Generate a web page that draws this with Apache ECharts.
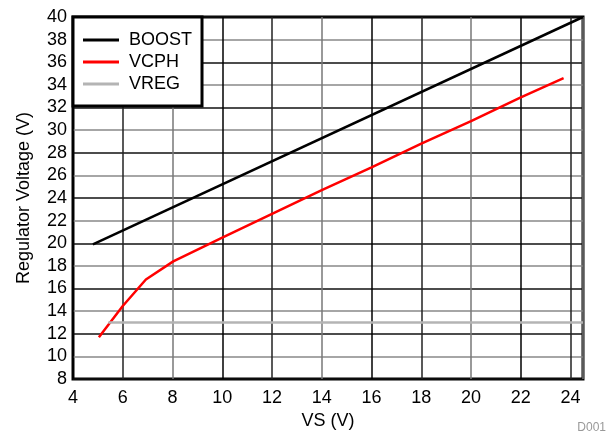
<!DOCTYPE html>
<html>
<head>
<meta charset="utf-8">
<script src="https://cdn.jsdelivr.net/npm/echarts@6/dist/echarts.min.js"></script>
<style>
  html,body{margin:0;padding:0;background:#fff;}
  #chart{width:610px;height:436px;}
</style>
</head>
<body>
<div id="chart"></div>
<script>
// data
var boostX = [4.8, 24.5];
var boostY = [19.9, 40];
var vcphX = [5.04, 6, 6.93, 8.03, 10, 12, 14, 16, 18, 20, 22, 23.72];
var vcphY = [11.7, 14.45, 16.8, 18.4, 20.5, 22.6, 24.7, 26.7, 28.8, 30.8, 32.9, 34.6];
var vregX = [5.42, 24.5];
var vregY = [13.0, 13.0];

function pairs(xs, ys){
    var out = [];
    for (var i = 0; i < xs.length; i++) out.push([xs[i], ys[i]]);
    return out;
}

var font = 'Liberation Sans, Arial, sans-serif';
var myChart = echarts.init(document.getElementById('chart'));
var option = {
    animation: false,
    textStyle: {fontFamily: font},
    grid: {left: 73, top: 17, right: 27, bottom: 57, show: true,
        borderColor: '#000', borderWidth: 3, backgroundColor: '#fff'},
    legend: {
        orient: 'vertical', left: 73, top: 17, padding: [14, 10, 13, 10],
        itemGap: 4, itemWidth: 36, itemHeight: 3, icon: 'rect',
        backgroundColor: '#fff', borderColor: '#000', borderWidth: 3,
        textStyle: {fontSize: 18, color: '#000', fontFamily: font, padding: [0, 0, 0, 5]},
        data: ['BOOST', 'VCPH', 'VREG']
    },
    xAxis: {
        type: 'value', min: 4, max: 24.5, interval: 2,
        name: 'VS (V)', nameLocation: 'middle', nameGap: 31,
        nameTextStyle: {fontSize: 18, color: '#000'},
        axisLine: {show: false}, axisTick: {show: false},
        axisLabel: {fontSize: 18, color: '#000', margin: 10,
            formatter: function(v){ return v % 2 === 0 ? v : ''; }},
        splitLine: {show: true, lineStyle: {color: ['#000', '#222', '#777'], width: 1.5}}
    },
    yAxis: {
        type: 'value', min: 8, max: 40, interval: 2,
        name: 'Regulator Voltage (V)', nameLocation: 'middle', nameGap: 40,
        nameTextStyle: {fontSize: 18, color: '#000'},
        axisLine: {show: false}, axisTick: {show: false},
        axisLabel: {fontSize: 18, color: '#000', margin: 6},
        splitLine: {show: true, lineStyle: {color: ['#111', '#888'], width: 1.5}}
    },
    series: [
        {name: 'BOOST', type: 'line', data: pairs(boostX, boostY), showSymbol: false,
            symbol: 'none', lineStyle: {color: '#000', width: 2.5}, itemStyle: {color: '#000'}},
        {name: 'VCPH', type: 'line', data: pairs(vcphX, vcphY), showSymbol: false,
            symbol: 'none', lineStyle: {color: '#ff0000', width: 2.5}, itemStyle: {color: '#ff0000'}},
        {name: 'VREG', type: 'line', data: pairs(vregX, vregY), showSymbol: false,
            symbol: 'none', lineStyle: {color: '#b4b4b4', width: 2.5}, itemStyle: {color: '#b4b4b4'}}
    ],
    graphic: [{
        type: 'text', right: 4, bottom: 2,
        style: {text: 'D001', fontSize: 12, fill: '#999', fontFamily: font}
    }]
};
myChart.setOption(option);
</script>
</body>
</html>
